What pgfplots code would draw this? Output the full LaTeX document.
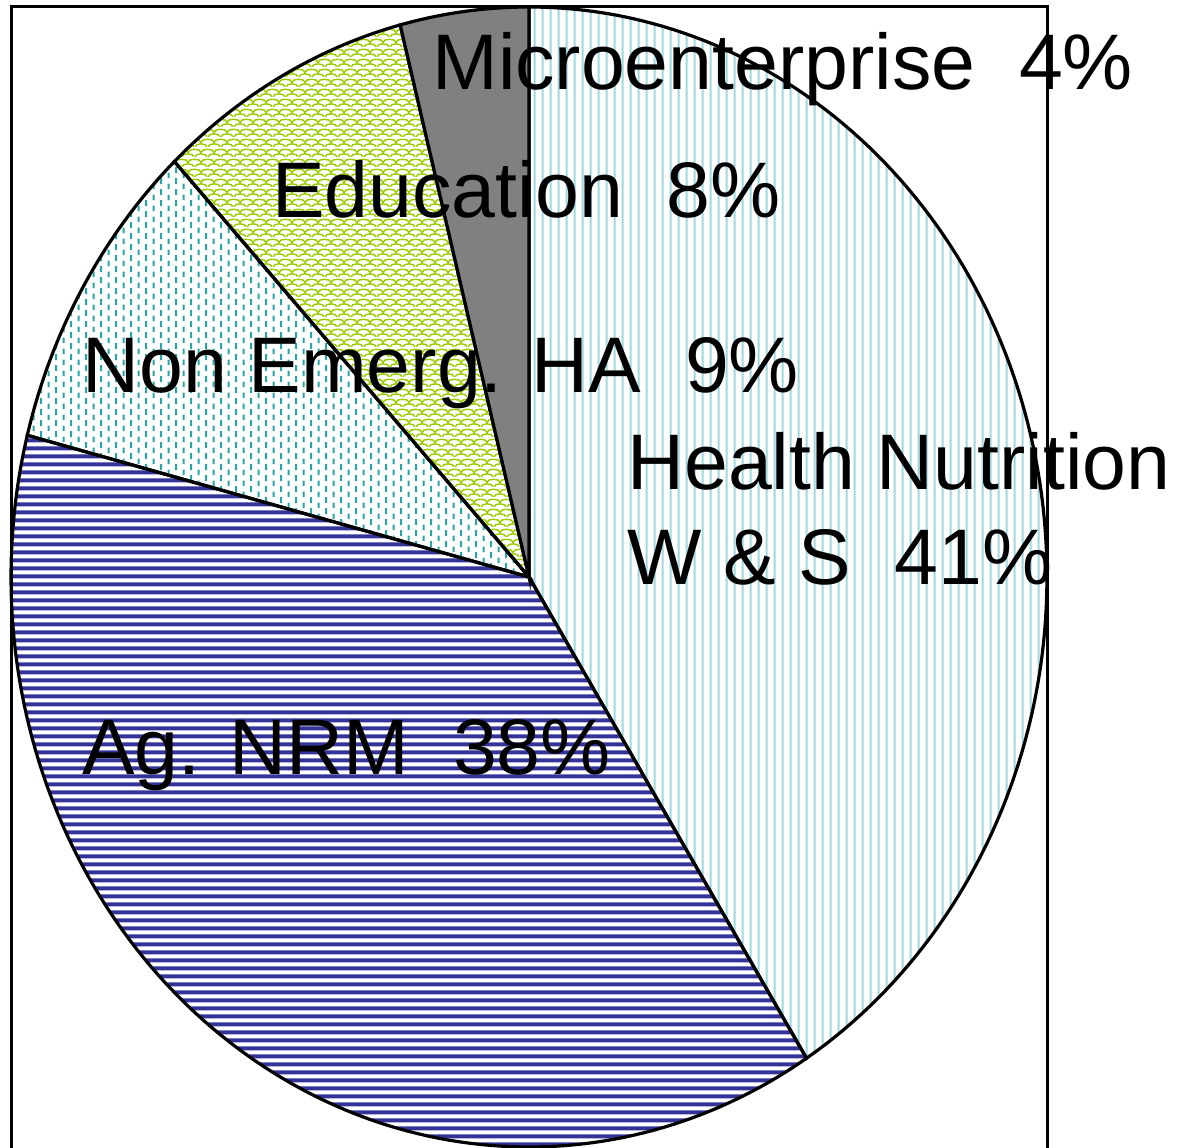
\documentclass[border=0pt]{standalone}
\usepackage{pgfplots}
\pgfplotsset{compat=1.18}
\usepackage{fontspec}
\setmainfont{Liberation Sans}
\usetikzlibrary{patterns}

\definecolor{healthC}{RGB}{160,215,222}
\definecolor{agC}{RGB}{51,51,153}
\definecolor{tealC}{RGB}{40,165,165}
\definecolor{eduC}{RGB}{153,204,0}
\definecolor{microC}{RGB}{128,128,128}

% vertical thin lines
\pgfdeclarepatternformonly{vlinesP}{\pgfqpoint{0pt}{0pt}}{\pgfqpoint{3.85pt}{3.85pt}}{\pgfqpoint{3.85pt}{3.85pt}}{%
  \pgfsetlinewidth{1.1pt}%
  \pgfpathmoveto{\pgfqpoint{1.9pt}{-0.5pt}}\pgfpathlineto{\pgfqpoint{1.9pt}{4.35pt}}\pgfusepath{stroke}}
% horizontal thick lines
\pgfdeclarepatternformonly{hlinesP}{\pgfqpoint{0pt}{0pt}}{\pgfqpoint{3.85pt}{3.85pt}}{\pgfqpoint{3.85pt}{3.85pt}}{%
  \pgfsetlinewidth{2pt}%
  \pgfpathmoveto{\pgfqpoint{-0.5pt}{1.9pt}}\pgfpathlineto{\pgfqpoint{4.35pt}{1.9pt}}\pgfusepath{stroke}}
% staggered vertical dashes
\pgfdeclarepatternformonly{dashP}{\pgfqpoint{0pt}{0pt}}{\pgfqpoint{7.7pt}{5.5pt}}{\pgfqpoint{7.7pt}{5.5pt}}{%
  \pgfsetlinewidth{1.1pt}%
  \pgfpathmoveto{\pgfqpoint{1.9pt}{0.5pt}}\pgfpathlineto{\pgfqpoint{1.9pt}{3.5pt}}%
  \pgfpathmoveto{\pgfqpoint{5.75pt}{3.25pt}}\pgfpathlineto{\pgfqpoint{5.75pt}{6.25pt}}%
  \pgfpathmoveto{\pgfqpoint{5.75pt}{-0.75pt}}\pgfpathlineto{\pgfqpoint{5.75pt}{0.5pt}}%
  \pgfusepath{stroke}}
% scale / weave pattern
\pgfdeclarepatternformonly{scaleP}{\pgfqpoint{0pt}{0pt}}{\pgfqpoint{6.5pt}{5pt}}{\pgfqpoint{6.5pt}{5pt}}{%
  \pgfsetlinewidth{0.8pt}%
  \pgfpathmoveto{\pgfqpoint{0pt}{0pt}}%
  \pgfpathcurveto{\pgfqpoint{0pt}{2.3pt}}{\pgfqpoint{6.5pt}{2.3pt}}{\pgfqpoint{6.5pt}{0pt}}%
  \pgfpathmoveto{\pgfqpoint{-3.25pt}{2.5pt}}%
  \pgfpathcurveto{\pgfqpoint{-3.25pt}{4.8pt}}{\pgfqpoint{3.25pt}{4.8pt}}{\pgfqpoint{3.25pt}{2.5pt}}%
  \pgfpathcurveto{\pgfqpoint{3.25pt}{4.8pt}}{\pgfqpoint{9.75pt}{4.8pt}}{\pgfqpoint{9.75pt}{2.5pt}}%
  \pgfusepath{stroke}}

% shares (percent), clockwise from 12 o'clock
\def\pHealth{41}
\def\pAg{38}
\def\pNon{9}
\def\pEdu{8}
\def\pMicro{4}

\pgfmathsetmacro\aA{90}
\pgfmathsetmacro\aB{\aA-3.6*\pHealth}
\pgfmathsetmacro\aC{\aB-3.6*\pAg}
\pgfmathsetmacro\aD{\aC-3.6*\pNon}
\pgfmathsetmacro\aE{\aD-3.6*\pEdu}
\pgfmathsetmacro\aF{\aE-3.6*\pMicro}

\begin{document}
\begin{tikzpicture}
\useasboundingbox (0,0) rectangle (589.5pt,573.5pt);
\clip (0,0) rectangle (589.5pt,573.5pt);
\begin{axis}[at={(0,0)}, anchor=south west, scale only axis,
  width=589.5pt, height=573.5pt,
  xmin=0, xmax=1179, ymin=0, ymax=1147,
  hide axis, clip=false]
\addplot[draw=black, line width=1.6pt, pattern=vlinesP, pattern color=healthC,
  domain=\aB:\aA, samples=120, variable=\t]
  ({529+518*cos(\t)}, {570+570*sin(\t)}) -- (axis cs:529,570) -- cycle;
\addplot[draw=black, line width=1.6pt, pattern=hlinesP, pattern color=agC,
  domain=\aC:\aB, samples=120, variable=\t]
  ({529+518*cos(\t)}, {570+570*sin(\t)}) -- (axis cs:529,570) -- cycle;
\addplot[draw=black, line width=1.6pt, pattern=dashP, pattern color=tealC,
  domain=\aD:\aC, samples=40, variable=\t]
  ({529+518*cos(\t)}, {570+570*sin(\t)}) -- (axis cs:529,570) -- cycle;
\addplot[draw=black, line width=1.6pt, pattern=scaleP, pattern color=eduC,
  domain=\aE:\aD, samples=40, variable=\t]
  ({529+518*cos(\t)}, {570+570*sin(\t)}) -- (axis cs:529,570) -- cycle;
\addplot[draw=black, line width=1.6pt, fill=microC,
  domain=\aF:\aE, samples=30, variable=\t]
  ({529+518*cos(\t)}, {570+570*sin(\t)}) -- (axis cs:529,570) -- cycle;

\draw[line width=1.5pt] (axis cs:11.5,-30) -- (axis cs:11.5,1140.5) -- (axis cs:1047.5,1140.5) -- (axis cs:1047.5,-30);

\begin{scope}[every node/.style={inner sep=0pt, anchor=base west, font=\fontsize{39.4}{47}\selectfont}]
\node at (axis cs:432,1057) {Microenterprise\ \ 4\%};
\node at (axis cs:272,929) {Education\ \ 8\%};
\node at (axis cs:82,754) {Non Emerg. HA\ \ 9\%};
\node at (axis cs:627,657) {Health Nutrition};
\node at (axis cs:627,562) {W \& S\ \ 41\%};
\node at (axis cs:82,372) {Ag. NRM\ \ 38\%};
\end{scope}
\end{axis}
\end{tikzpicture}
\end{document}
